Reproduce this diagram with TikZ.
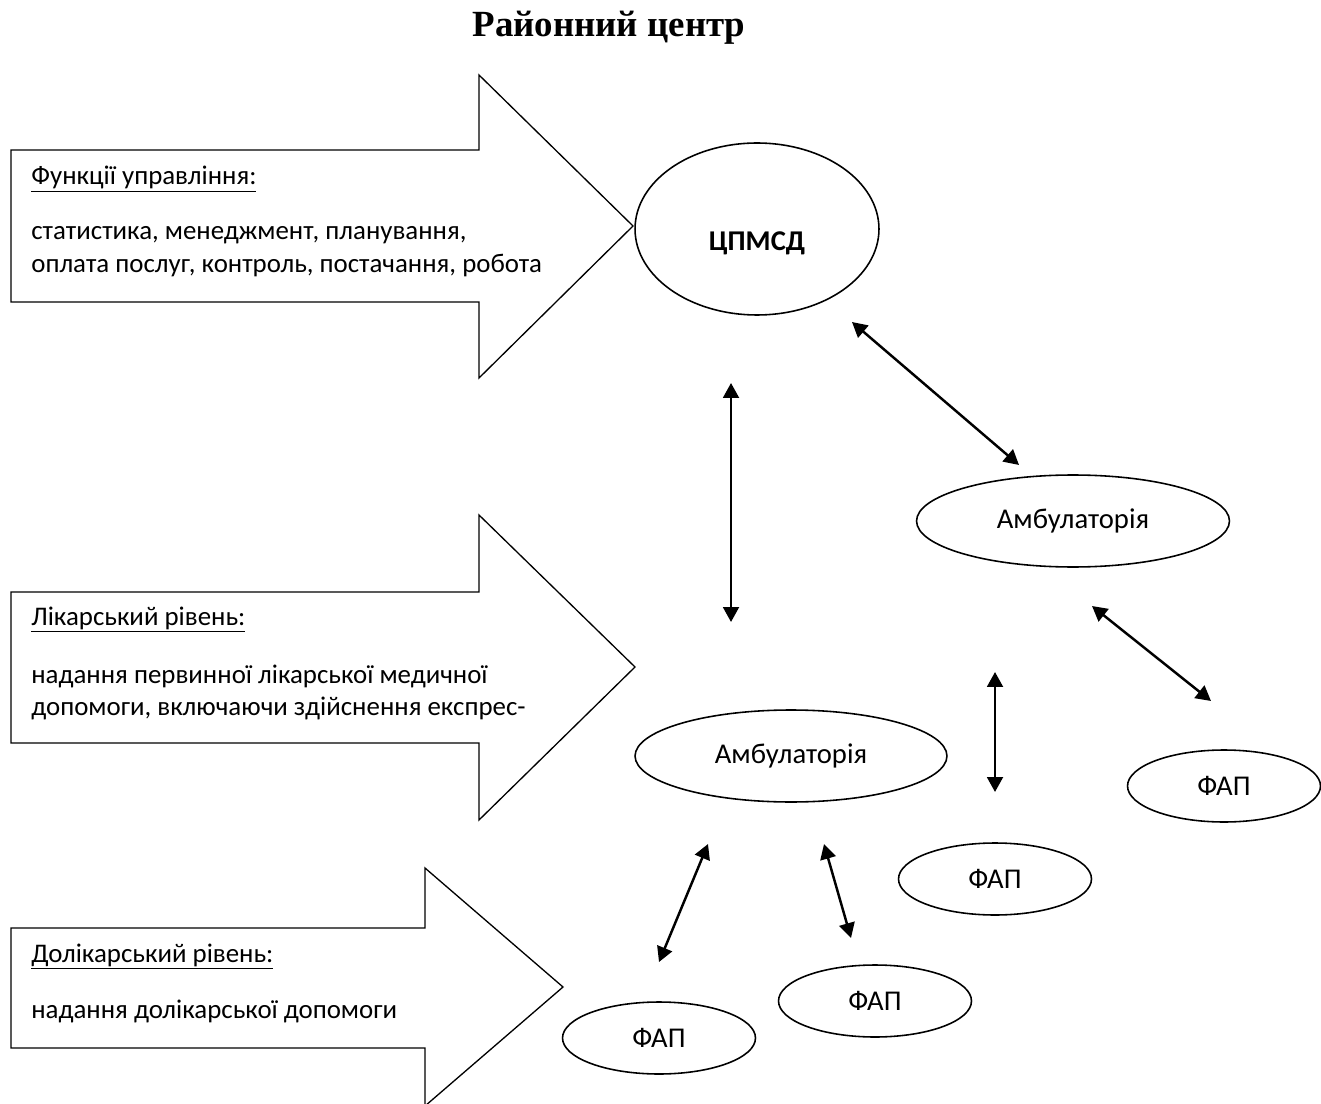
\documentclass[tikz,border=0pt]{standalone}
\usepackage{fontspec}
\setmainfont{Carlito}
\newfontfamily\titlefont{Liberation Serif}
\usetikzlibrary{arrows.meta,shapes.geometric}

\newcommand{\ulhead}[1]{\setbox0\hbox{#1}\rlap{\rule[-4.2pt]{\wd0}{0.7pt}}\box0}

\begin{document}
\begin{tikzpicture}[x=0.02cm, y=-0.02cm,
  blockarrow/.style={draw, line width=0.75pt, line join=miter},
  oval/.style={draw, ellipse, line width=0.9pt, inner sep=0pt, font=\fontsize{16.3}{19}\selectfont},
  link/.style={{Triangle[length=8.5pt,width=9pt]}-{Triangle[length=8.5pt,width=9pt]}, line width=1.4pt},
  txt/.style={anchor=base west, inner sep=0pt, font=\fontsize{15.3}{18.7}\selectfont}]
  \useasboundingbox (0,0) rectangle (1321,1104);
  % Title
  \node[anchor=base, font=\titlefont\bfseries\fontsize{21}{25}\selectfont] (title) at (609,37) {Районний центр};
  % Block arrows
  \draw[blockarrow] (11,150) -- (479,150) -- (479,75) -- (633,226) -- (479,378) -- (479,302) -- (11,302) -- cycle;
  \draw[blockarrow] (11,592) -- (479,592) -- (479,515) -- (635,667) -- (479,820) -- (479,743) -- (11,743) -- cycle;
  \draw[blockarrow] (11,928) -- (425,928) -- (425,868) -- (563,987) -- (425,1106) -- (425,1048) -- (11,1048) -- cycle;
  % Arrow texts
  \node[txt] (fun) at (31,185) {\ulhead{Функції управління:}};
  \node[txt] (fun1) at (31,240) {статистика, менеджмент, планування,};
  \node[txt] (fun2) at (31,273) {оплата послуг, контроль, постачання, робота};
  \node[txt] (doc) at (31,625) {\ulhead{Лікарський рівень:}};
  \node[txt] (doc1) at (31,683) {надання первинної лікарської медичної};
  \node[txt] (doc2) at (31,715) {допомоги, включаючи здійснення експрес-};
  \node[txt] (pre) at (31,962) {\ulhead{Долікарський рівень:}};
  \node[txt] (pre1) at (31,1018) {надання долікарської допомоги};
  % Facilities
  \node[oval, minimum width=4.88cm, minimum height=3.44cm, font=\fontsize{16.3}{19}\selectfont\bfseries]
    (cpmsd) at (757,229) {\raisebox{-8pt}[0.7em][0.2em]{ЦПМСД}};
  \node[oval, minimum width=6.26cm, minimum height=1.84cm] (amb1) at (1073,521) {Амбулаторія};
  \node[oval, minimum width=6.24cm, minimum height=1.84cm] (amb2) at (791,756) {Амбулаторія};
  \foreach \n/\x/\y in {fap1/1224/786, fap2/995/879, fap3/875/1001, fap4/659/1038}
    \node[oval, minimum width=3.86cm, minimum height=1.44cm] (\n) at (\x,\y) {ФАП};
  % Two-way links
  \coordinate (l1a) at (731,383);  \coordinate (l1b) at (731,622);
  \coordinate (l2a) at (852,322);  \coordinate (l2b) at (1019,465);
  \coordinate (l3a) at (1092,606); \coordinate (l3b) at (1211,701);
  \coordinate (l4a) at (995,672);  \coordinate (l4b) at (995,792);
  \coordinate (l5a) at (708,844);  \coordinate (l5b) at (659,962);
  \coordinate (l6a) at (824,844);  \coordinate (l6b) at (851,938);
  \foreach \i in {1,...,6}
    \draw[link] (l\i a) -- (l\i b);
\end{tikzpicture}
\end{document}
